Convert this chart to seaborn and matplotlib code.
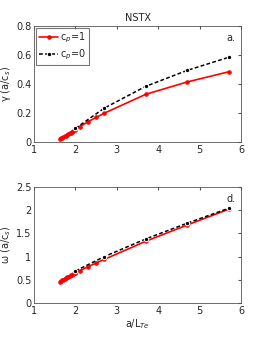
import numpy as np
import pandas as pd
import matplotlib
matplotlib.use('Agg')
import matplotlib.pyplot as plt
import seaborn as sns

# Data
x_cp1 = [1.62, 1.65, 1.68, 1.71, 1.74, 1.77, 1.80, 1.83, 1.86, 1.89, 1.92, 1.95, 1.98, 2.0,
         2.1, 2.3, 2.5, 2.7, 3.7, 4.7, 5.7]
gamma_cp1 = [0.020, 0.025, 0.030, 0.035, 0.040, 0.045, 0.050, 0.055, 0.060, 0.065, 0.070, 0.075, 0.082, 0.088,
             0.105, 0.140, 0.170, 0.200, 0.330, 0.415, 0.485]
omega_cp1 = [0.46, 0.475, 0.49, 0.505, 0.52, 0.535, 0.55, 0.565, 0.58, 0.595, 0.61, 0.625, 0.64, 0.65,
             0.69, 0.78, 0.86, 0.94, 1.33, 1.68, 2.02]

x_cp0 = [2.0, 2.7, 3.7, 4.7, 5.7]
gamma_cp0 = [0.095, 0.235, 0.385, 0.495, 0.585]
omega_cp0 = [0.69, 1.00, 1.38, 1.72, 2.04]

df1 = pd.DataFrame({'x': x_cp1, 'gamma': gamma_cp1, 'omega': omega_cp1})
df0 = pd.DataFrame({'x': x_cp0, 'gamma': gamma_cp0, 'omega': omega_cp0})

sns.set_style('white')
plt.rcParams['font.family'] = ['DejaVu Sans']
plt.rcParams['font.size'] = 7
plt.rcParams['xtick.direction'] = 'in'
plt.rcParams['ytick.direction'] = 'in'
plt.rcParams['xtick.major.size'] = 2
plt.rcParams['ytick.major.size'] = 2

fig = plt.figure(figsize=(2.66, 3.40), dpi=100)
ax1 = fig.add_axes([0.128, 0.582, 0.778, 0.341])
ax2 = fig.add_axes([0.128, 0.109, 0.778, 0.341])

for ax, col, ylim, yticks in [(ax1, 'gamma', (0, 0.8), [0, 0.2, 0.4, 0.6, 0.8]),
                              (ax2, 'omega', (0, 2.5), [0, 0.5, 1, 1.5, 2, 2.5])]:
    sns.lineplot(data=df1, x='x', y=col, ax=ax, color='red', marker='o', markersize=2.5,
                 markeredgecolor='red', linewidth=1.2, label='c$_p$=1')
    sns.lineplot(data=df0, x='x', y=col, ax=ax, color='black', marker='o', markersize=3.2,
                 linewidth=1.1, label='c$_p$=0', dashes=False)
    ax.lines[-1].set_dashes([2.5, 1.5])
    ax.set_xlim(1, 6)
    ax.set_ylim(*ylim)
    ax.set_xticks([1, 2, 3, 4, 5, 6])
    ax.set_yticks(yticks)
    ax.set_yticklabels([f'{t:g}' for t in yticks])
    ax.tick_params(labelsize=7, pad=2, top=True, right=True, color='#555555')
    for s in ax.spines.values():
        s.set_color('#555555')
        s.set_linewidth(0.6)

ax1.set_xlabel('')
ax1.set_ylabel('γ (a/c$_s$)', fontsize=7, labelpad=2)
ax1.set_title('NSTX', fontsize=7, pad=4)
ax1.text(0.975, 0.9, 'a.', transform=ax1.transAxes, ha='right', va='center', fontsize=7)
leg = ax1.legend(loc='upper left', fontsize=7, handlelength=2, frameon=True, fancybox=False,
                 edgecolor='#555555', borderpad=0.3, labelspacing=0.2, handletextpad=0.2,
                 borderaxespad=0.2)
leg.get_frame().set_linewidth(0.8)
leg.get_lines()[1].set_dashes([2.5, 1.5])

ax2.set_xlabel('a/L$_{Te}$', fontsize=7, labelpad=1)
ax2.set_ylabel('ω (a/c$_s$)', fontsize=7, labelpad=2)
ax2.legend_.remove()
ax2.text(0.975, 0.9, 'd.', transform=ax2.transAxes, ha='right', va='center', fontsize=7)

fig.savefig('out.png', dpi=100)
